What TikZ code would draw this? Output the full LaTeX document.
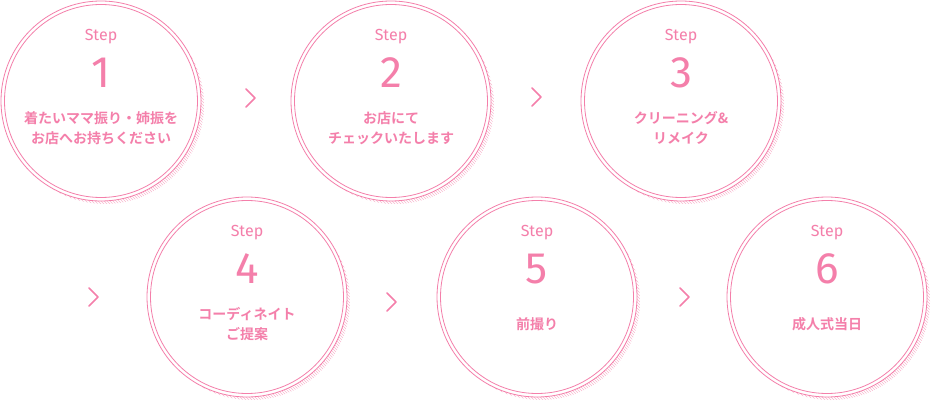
\documentclass[tikz,border=0pt]{standalone}
\usepackage{fontspec}
\setmainfont{Noto Sans CJK JP}[BoldFont={* Bold}]
\newfontfamily\stepfont{Fira Sans}
\usetikzlibrary{patterns,positioning}
\definecolor{stepink}{HTML}{F47FAA}
\definecolor{shadepink}{HTML}{F8B8CE}

\begin{document}
\begin{tikzpicture}[
  x=1pt, y=-1pt,
  ring/.style={draw=stepink, line width=0.8pt},
  steplabel/.style={text=stepink, font=\stepfont\fontsize{16}{16}\selectfont},
  stepnum/.style={text=stepink, font=\stepfont\fontsize{44}{44}\selectfont},
  stepbody/.style={text=stepink, font=\bfseries\fontsize{14}{20}\selectfont, align=center},
  chevron/.style={draw=stepink, line width=1.6pt, line cap=round, line join=round}
]
  \useasboundingbox (0,0) rectangle (934,403);

  % circles: name / x / y
  \foreach \n/\x/\y in {c1/101/101, c2/391/101, c3/681/101, c4/247/297, c5/537/297, c6/827/297} {
    \fill[pattern=north west lines, pattern color=shadepink] (\x+4,\y+4) circle (99);
    \fill[white] (\x,\y) circle (100);
    \draw[ring] (\x,\y) circle (100);
    \draw[ring] (\x,\y) circle (96.5);
    \coordinate (\n) at (\x,\y);
  }

  % texts
  \foreach \n/\k in {c1/1, c2/2, c3/3, c4/4, c5/5, c6/6} {
    \node[steplabel] (\n-step) at ([yshift=64]\n) {Step};
    \node[stepnum] (\n-num) at ([yshift=28]\n) {\k};
  }
  \node[stepbody] (c1-text) at ([yshift=-27]c1) {着たいママ振り・姉振を\\お店へお持ちください};
  \node[stepbody] (c2-text) at ([yshift=-27]c2) {お店にて\\チェックいたします};
  \node[stepbody] (c3-text) at ([yshift=-27]c3) {クリーニング\&\\リメイク};
  \node[stepbody] (c4-text) at ([yshift=-27]c4) {コーディネイト\\ご提案};
  \node[stepbody] (c5-text) at ([yshift=-27]c5) {前撮り};
  \node[stepbody] (c6-text) at ([yshift=-27]c6) {成人式当日};

  % chevrons
  \foreach \n/\x/\y in {a1/251/98, a2/537/97, a3/94/297, a4/392/302, a5/685/297} {
    \coordinate (\n) at (\x,\y);
    \draw[chevron] ([xshift=-5,yshift=-9]\n) -- ([xshift=4]\n) -- ([xshift=-5,yshift=9]\n);
  }
\end{tikzpicture}
\end{document}
